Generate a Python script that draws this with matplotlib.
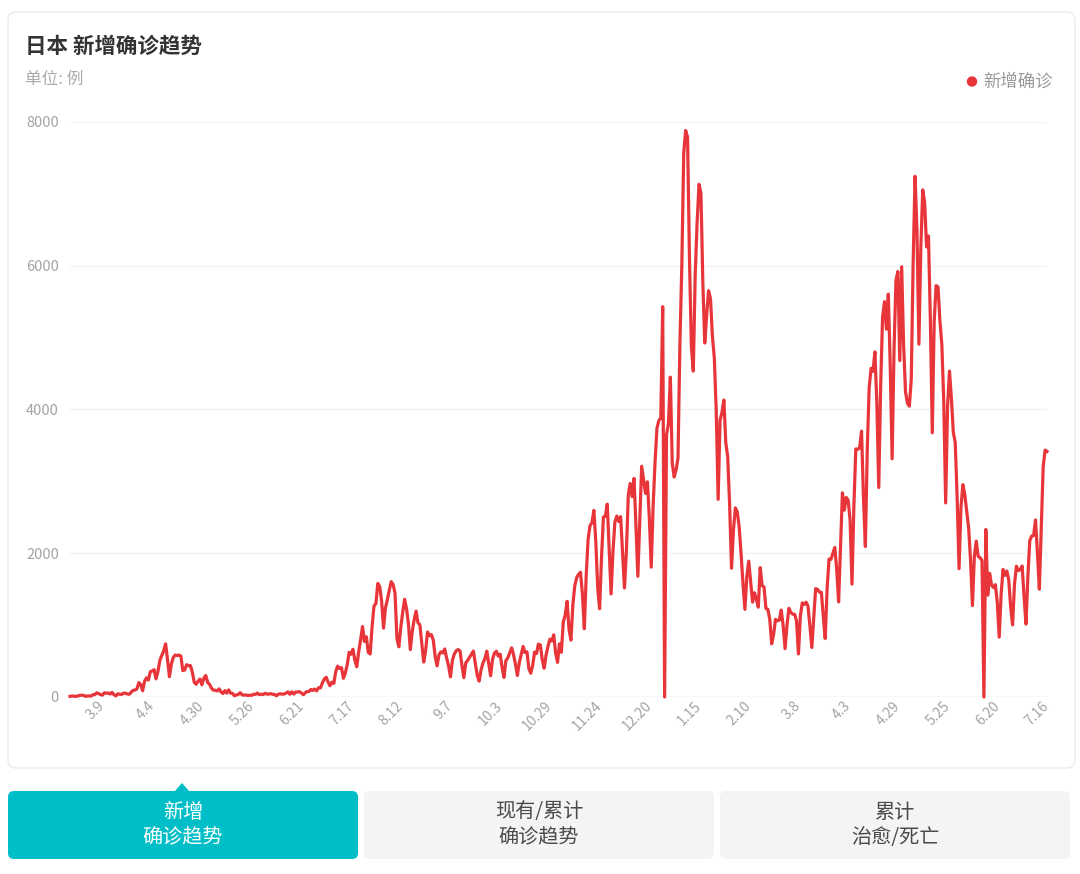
"""Japan daily new confirmed cases (日本 新增确诊趋势), Feb 2020 - Jul 2021."""
from __future__ import annotations

import matplotlib

matplotlib.use("Agg")
import matplotlib.pyplot as plt  # noqa: E402
import numpy as np  # noqa: E402
import pandas as pd  # noqa: E402
from matplotlib.patches import Circle, FancyBboxPatch, Polygon  # noqa: E402

plt.rcParams["font.family"] = ["Noto Sans CJK SC", "DejaVu Sans"]

START_DATE = "2020-02-21"

# daily new cases, one list per month
cases_2020_02 = [9, 13, 12, 9, 13, 22, 25, 24, 9]
cases_2020_03 = [14, 15, 12, 33, 32, 59, 47, 33, 26, 59, 52, 56, 41, 64, 32, 15,
                 44, 39, 35, 53, 53, 42, 38, 65, 93, 96, 112, 200, 173, 87, 220]
cases_2020_04 = [266, 236, 351, 363, 380, 252, 356, 510, 576, 642, 740, 523, 283,
                 457, 549, 584, 576, 584, 568, 367, 376, 450, 435, 437, 345, 203,
                 178, 220, 250, 170]
cases_2020_05 = [262, 300, 201, 175, 123, 96, 94, 84, 113, 69, 49, 89, 55, 99, 53,
                 50, 17, 29, 35, 60, 30, 26, 29, 21, 25, 22, 39, 36, 55, 33, 39]
cases_2020_06 = [34, 51, 41, 40, 47, 38, 35, 17, 40, 44, 40, 41, 55, 72, 38, 72,
                 41, 70, 69, 74, 56, 32, 57, 77, 76, 105, 92, 110, 86, 128]
cases_2020_07 = [127, 195, 250, 274, 208, 157, 207, 190, 355, 430, 398, 408, 260,
                 333, 450, 622, 595, 664, 511, 421, 631, 795, 980, 773, 838, 620,
                 598, 980, 1264, 1301, 1580]
cases_2020_08 = [1536, 1331, 958, 1241, 1354, 1485, 1605, 1565, 1442, 814, 699, 966,
                 1176, 1360, 1231, 1020, 659, 911, 1072, 1195, 1034, 1004, 747, 486,
                 645, 905, 851, 869, 792, 563, 433]
cases_2020_09 = [588, 629, 612, 668, 540, 435, 280, 509, 597, 643, 660, 640, 438,
                 269, 476, 509, 555, 595, 639, 464, 301, 221, 378, 473, 533, 638,
                 467, 295, 525, 609]
cases_2020_10 = [637, 569, 596, 410, 272, 509, 545, 614, 684, 588, 453, 300, 481,
                 589, 703, 618, 628, 393, 331, 442, 624, 604, 736, 722, 519, 400,
                 582, 705, 805, 778, 865]
cases_2020_11 = [611, 481, 740, 622, 1045, 1137, 1331, 941, 791, 1277, 1546, 1660,
                 1706, 1735, 1438, 950, 1699, 2201, 2386, 2424, 2596, 2168, 1520,
                 1228, 1946, 2504, 2514, 2684, 2067, 1434]
cases_2020_12 = [2031, 2434, 2518, 2442, 2509, 2025, 1517, 2018, 2810, 2971, 2788,
                 3041, 2388, 1680, 2430, 3211, 3017, 2834, 2994, 2497, 1807, 2663,
                 3270, 3740, 3849, 3881, 5430, 0, 3650, 3800, 4450]
cases_2021_01 = [3250, 3060, 3158, 3323, 4915, 6001, 7570, 7882, 7790, 6094, 4876,
                 4534, 5875, 6605, 7133, 7010, 5759, 4925, 5320, 5653, 5541, 5018,
                 4717, 3980, 2750, 3853, 3960, 4132, 3538, 3342, 2673]
cases_2021_02 = [1792, 2324, 2631, 2576, 2366, 1991, 1575, 1219, 1680, 1890, 1600,
                 1320, 1450, 1360, 1250, 1800, 1550, 1530, 1230, 1220, 1080, 740,
                 870, 1080, 1060, 1070, 1210, 990]
cases_2021_03 = [673, 995, 1234, 1179, 1152, 1150, 1059, 599, 1127, 1310, 1288, 1319,
                 1264, 987, 689, 1101, 1508, 1497, 1458, 1457, 1119, 814, 1512, 1919,
                 1915, 1998, 2081, 1780, 1323, 2085, 2840]
cases_2021_04 = [2599, 2777, 2736, 2465, 1571, 2656, 3451, 3447, 3467, 3700, 2778,
                 2094, 3453, 4308, 4573, 4532, 4802, 4093, 2915, 4326, 5290, 5500,
                 5117, 5606, 4612, 3314, 4844, 5796, 5919, 4681]
cases_2021_05 = [5986, 4900, 4244, 4090, 4046, 4418, 6056, 7244, 6479, 4909, 6242,
                 7056, 6881, 6262, 6415, 5240, 3677, 5226, 5724, 5707, 5230, 4901,
                 4114, 2700, 4053, 4535, 4152, 3683, 3539, 2780, 1786]
cases_2021_06 = [2638, 2955, 2816, 2587, 2357, 1907, 1272, 1957, 2169, 1958, 1938,
                 1900, 0, 2330, 1417, 1720, 1555, 1523, 1563, 1312, 833, 1426, 1774,
                 1693, 1752, 1626, 1252, 1003, 1569, 1821]
cases_2021_07 = [1757, 1773, 1823, 1395, 1014, 1680, 2179, 2240, 2246, 2464, 2004,
                 1500, 2375, 3200, 3435, 3417]

tick_labels = ["3.9", "4.4", "4.30", "5.26", "6.21", "7.17", "8.12", "9.7", "10.3",
               "10.29", "11.24", "12.20", "1.15", "2.10", "3.8", "4.3", "4.29",
               "5.25", "6.20", "7.16"]
y_ticks = [0, 2000, 4000, 6000, 8000]

RED = "#e8353a"
TEAL = "#00bec8"
GREY_TXT = "#a3a3a3"
W, H = 1080, 874


def _tick_positions(labels):
    """Walk forward through the daily labels so 3.8 (2021) is not confused with 2020."""
    pos, start = [], 0
    for t in tick_labels:
        i = labels.index(t, start)
        pos.append(i)
        start = i + 1
    return pos


def draw_chart(fig):
    cases = np.concatenate([
        cases_2020_02, cases_2020_03, cases_2020_04, cases_2020_05, cases_2020_06,
        cases_2020_07, cases_2020_08, cases_2020_09, cases_2020_10, cases_2020_11,
        cases_2020_12, cases_2021_01, cases_2021_02, cases_2021_03, cases_2021_04,
        cases_2021_05, cases_2021_06, cases_2021_07,
    ])
    dates = pd.date_range(START_DATE, periods=len(cases), freq="D")
    labels = [f"{d.month}.{d.day}" for d in dates]
    day = np.arange(len(cases))

    ax = fig.add_axes([70 / W, 177 / H, 977 / W, 575 / H])
    ax.patch.set_alpha(0)
    ax.plot(day, cases, color=RED, lw=2.3, solid_joinstyle="round", clip_on=False, zorder=3)
    ax.set_xlim(0, len(cases) - 1)
    ax.set_ylim(0, 8000)
    for s in ax.spines.values():
        s.set_visible(False)
    ax.set_yticks(y_ticks)
    ax.set_yticklabels([str(v) for v in y_ticks])
    ax.yaxis.grid(True, color="#f3f3f3", lw=1)
    ax.axhline(0, color="#e9e9e9", lw=1, zorder=1)
    ax.set_axisbelow(True)
    ax.tick_params(axis="y", length=0, pad=8, labelsize=10.5, labelcolor=GREY_TXT)
    ax.set_xticks(_tick_positions(labels))
    ax.set_xticklabels(tick_labels, rotation=45, ha="right", va="center",
                       rotation_mode="anchor")
    ax.tick_params(axis="x", length=0, pad=5, labelsize=10, labelcolor=GREY_TXT)


def draw_frame(fig):
    bg = fig.add_axes([0, 0, 1, 1])
    bg.set_xlim(0, W)
    bg.set_ylim(H, 0)
    bg.axis("off")
    bg.add_patch(FancyBboxPatch((8, 12), 1067, 756, boxstyle="round,pad=0,rounding_size=8",
                                fc="white", ec="#ebebeb", lw=1))
    bg.text(25, 46, "日本 新增确诊趋势", fontsize=15.5, fontweight="bold", color="#333333",
            va="center", ha="left")
    bg.text(25, 79, "单位: 例", fontsize=12, color="#aaaaaa", va="center", ha="left")
    bg.add_patch(Circle((972, 81.5), 4.5, color=RED))
    bg.text(983, 81.5, "新增确诊", fontsize=12.5, color="#999999", va="center", ha="left")

    buttons = [
        (8, "新增", "确诊趋势", TEAL, "white"),
        (364, "现有/累计", "确诊趋势", "#f3f4f6", "#4a4a4a"),
        (720, "累计", "治愈/死亡", "#f3f4f6", "#4a4a4a"),
    ]
    for x0, line1, line2, fc, tc in buttons:
        bg.add_patch(FancyBboxPatch((x0, 791), 350, 68, boxstyle="round,pad=0,rounding_size=6",
                                    fc=fc, ec="none"))
        cx = x0 + 175
        bg.text(cx, 812, line1, fontsize=14.5, color=tc, ha="center", va="center")
        bg.text(cx, 838, line2, fontsize=14.5, color=tc, ha="center", va="center")
    bg.add_patch(Polygon([(174, 792), (182, 783), (190, 792)], closed=True, fc=TEAL, ec="none"))
    return bg


def main() -> int:
    fig = plt.figure(figsize=(W / 100, H / 100), dpi=100)
    fig.patch.set_facecolor("white")
    draw_frame(fig)
    draw_chart(fig)
    fig.savefig("out.png", dpi=100)
    plt.close(fig)
    return 0


if __name__ == "__main__":
    raise SystemExit(main())
